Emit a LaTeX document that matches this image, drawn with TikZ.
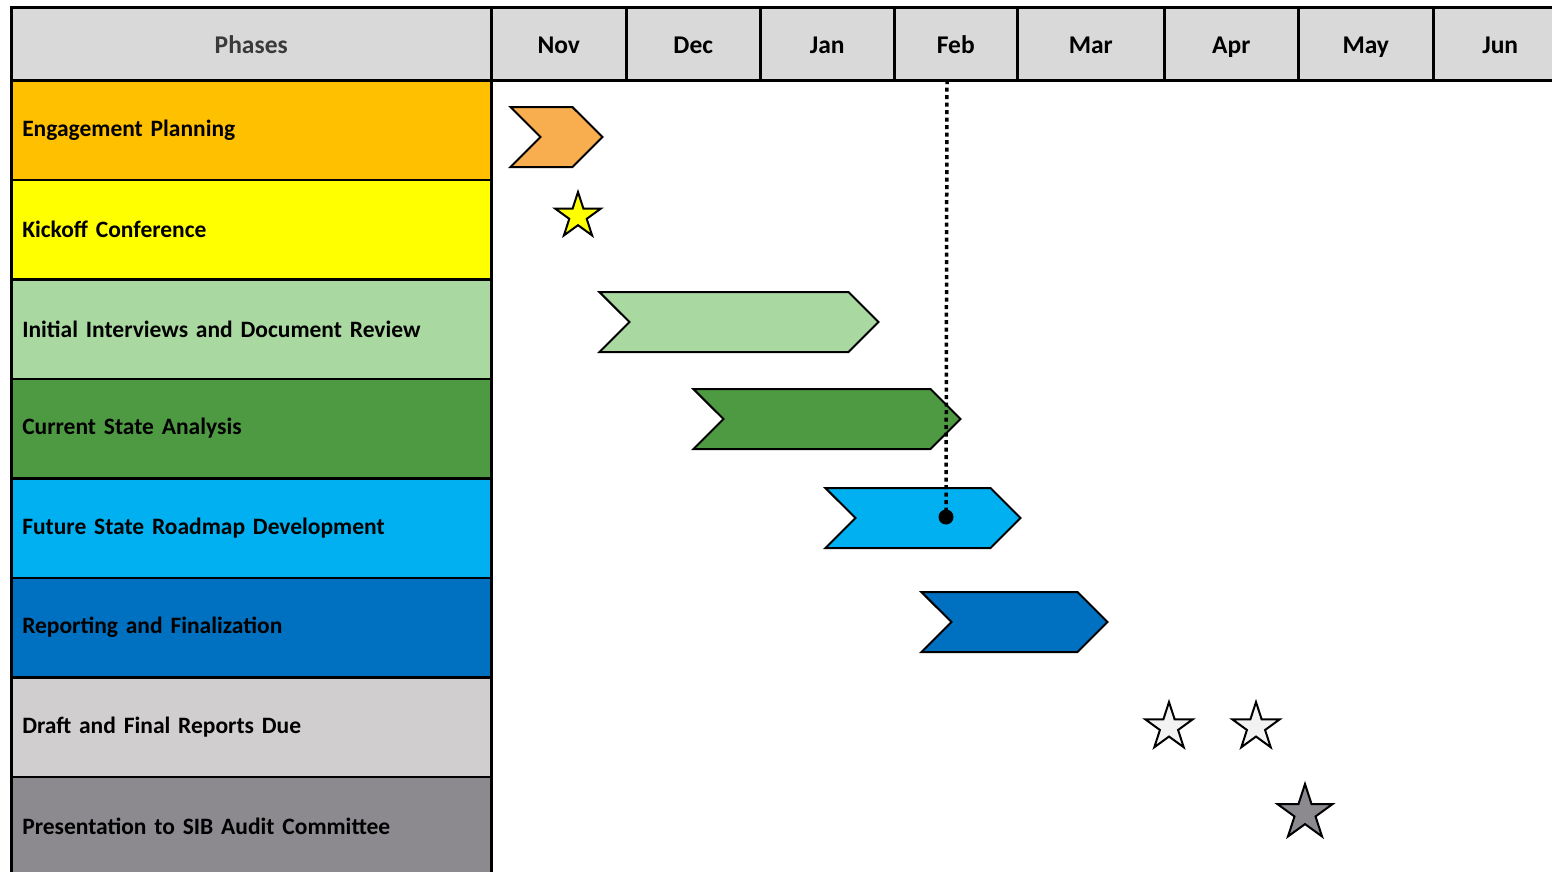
\documentclass[tikz,border=0pt]{standalone}
\usepackage{fontspec}
\setmainfont{Carlito}
\usetikzlibrary{shapes.geometric,shapes.symbols}
\definecolor{hdr}{HTML}{D9D9D9}
\definecolor{cEng}{HTML}{FFC000}
\definecolor{cKick}{HTML}{FFFF00}
\definecolor{cInit}{HTML}{A9D9A0}
\definecolor{cCur}{HTML}{4E9A43}
\definecolor{cFut}{HTML}{00B0F0}
\definecolor{cRep}{HTML}{0070C0}
\definecolor{cDraft}{HTML}{D0CECE}
\definecolor{cPres}{HTML}{8C8A8F}
\definecolor{chevEng}{HTML}{F8AD4E}
\definecolor{starWhite}{HTML}{F2F2F2}
\definecolor{phtxt}{HTML}{3A3A3A}
\tikzset{
  hcell/.style={draw=black, line width=2.5pt, fill=hdr, anchor=north west, minimum height=73pt, inner sep=0pt, text height=20pt, text depth=1pt, font=\fontsize{25.5}{28}\selectfont\bfseries},
  rowcell/.style={draw=black, line width=2.5pt, anchor=north west, minimum width=480pt, minimum height=99.5pt, text width=458pt, align=left, inner xsep=11pt, inner ysep=0pt, font=\fontsize{23.5}{26}\selectfont\bfseries},
  chev/.style={shape=signal, signal to=east, signal from=west, signal pointer angle=90, draw=black, line width=2pt, minimum height=60pt, inner sep=0pt, anchor=west},
  mstar/.style={shape=star, star points=5, star point ratio=2.618, draw=black, line width=2pt, inner sep=0pt},
  milestone/.style={circle, fill=black, inner sep=0pt, minimum size=15pt},
}
\begin{document}
\begin{tikzpicture}[x=1pt,y=-1pt]
\useasboundingbox (0,0) rectangle (1552,871);
\fill[white] (0,0) rectangle (1552,871);
% header
\node[hcell, minimum width=480pt, text=phtxt] (hP) at (10,6) {Phases};
\node[hcell, minimum width=135pt] (hNov) at (490,6) {Nov};
\node[hcell, minimum width=134pt] (hDec) at (625,6) {Dec};
\node[hcell, minimum width=134pt] (hJan) at (759,6) {Jan};
\node[hcell, minimum width=123pt] (hFeb) at (893,6) {Feb};
\node[hcell, minimum width=147pt] (hMar) at (1016,6) {Mar};
\node[hcell, minimum width=134pt] (hApr) at (1163,6) {Apr};
\node[hcell, minimum width=135pt] (hMay) at (1297,6) {May};
\node[hcell, minimum width=134pt] (hJun) at (1432,6) {Jun};
% rows
\node[rowcell, fill=cEng] (r1) at (10,79) {Engagement Planning};
\node[rowcell, fill=cKick] (r2) at (10,178.5) {Kickoff Conference};
\node[rowcell, fill=cInit] (r3) at (10,278) {Initial Interviews and Document Review};
\node[rowcell, fill=cCur] (r4) at (10,377.5) {Current State Analysis};
\node[rowcell, fill=cFut] (r5) at (10,477) {Future State Roadmap Development};
\node[rowcell, fill=cRep] (r6) at (10,576.5) {Reporting and Finalization};
\node[rowcell, fill=cDraft] (r7) at (10,676) {Draft and Final Reports Due};
\node[rowcell, fill=cPres] (r8) at (10,775.5) {Presentation to SIB Audit Committee};
% chevrons (west anchor sits at the notch)
\node[chev, fill=chevEng, minimum width=92pt] (c1) at (539,137) {};
\node[chev, fill=cInit, minimum width=279pt] (c3) at (628,322) {};
\node[chev, fill=cCur, minimum width=267pt] (c4) at (722,419) {};
\node[chev, fill=cFut, minimum width=195pt] (c5) at (854,518) {};
\node[chev, fill=cRep, minimum width=186pt] (c6) at (950,622) {};
% stars
\node[mstar, fill=cKick, minimum size=48pt] (s1) at (578,216) {};
\node[mstar, fill=starWhite, minimum size=50pt] (s2) at (1169,727) {};
\node[mstar, fill=starWhite, minimum size=50pt] (s3) at (1256,727) {};
\node[mstar, fill=cPres, minimum size=58pt] (s4) at (1305,813) {};
% today line
\coordinate (today) at (947,80);
\node[milestone] (dot) at (946,517) {};
\draw[line width=3.5pt, dash pattern=on 4pt off 3.5pt] (today) -- (dot.center);
\end{tikzpicture}
\end{document}
